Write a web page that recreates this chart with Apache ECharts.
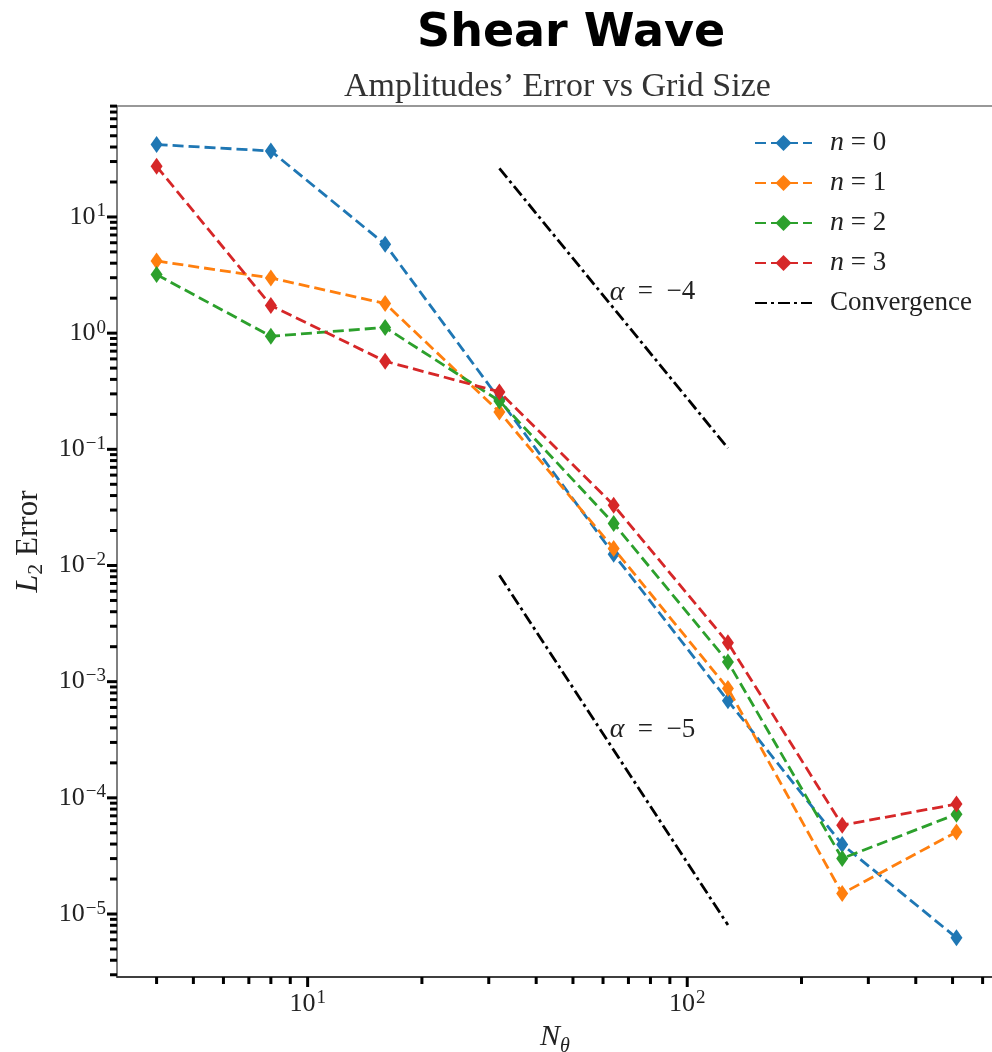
<!DOCTYPE html>
<html>
<head>
<meta charset="utf-8">
<script src="https://cdn.jsdelivr.net/npm/echarts@6/dist/echarts.min.js"></script>
<style>html,body{margin:0;padding:0;background:#fff;}</style>
</head>
<body>

<!-- chart container, same size as the window -->
<div id="main" style="width: 992px;height:1052px;"></div>

<script type="text/javascript">
    // grid sizes N_theta
    var gridSizes = [4, 8, 16, 32, 64, 128, 256, 512];
    // L2 error of the amplitudes, one array per mode n
    var errN0 = [42.0, 37.0, 5.82, 0.27, 0.0125, 6.84e-4, 3.97e-5, 6.24e-6];
    var errN1 = [4.18, 2.99, 1.80, 0.21, 0.014, 8.73e-4, 1.50e-5, 5.09e-5];
    var errN2 = [3.19, 0.94, 1.12, 0.261, 0.023, 1.48e-3, 3.01e-5, 7.24e-5];
    var errN3 = [27.3, 1.73, 0.573, 0.312, 0.033, 2.16e-3, 5.82e-5, 8.83e-5];
    // convergence guide lines (slope -4 and -5)
    var convX = [32, 128];
    var conv4 = [26.2, 0.1023];
    var conv5 = [8.25e-3, 8.06e-6];
    // where the slope labels sit
    var alpha4At = [81, 2.25];
    var alpha5At = [81, 3.83e-4];
    // axis ticks (powers of ten get labels)
    var xMajor = [10, 100];
    var yMajor = [1e-5, 1e-4, 1e-3, 1e-2, 1e-1, 1, 10];
    var xRange = [3.146, 639];
    var yRange = [2.87e-6, 90.2];

    var serif = 'Liberation Serif';
    var textColor = '#222';
    var colors = ['#1f77b4', '#ff7f0e', '#2ca02c', '#d62728'];

    function lg(v) { return Math.log10(v); }
    function toLog(xs, ys) {
        return xs.map(function (x, i) { return [lg(x), lg(ys[i])]; });
    }

    // minor ticks 2..9 of every decade inside the range
    function minorTicks(range) {
        var out = [];
        for (var k = -7; k <= 3; k++) {
            for (var m = 2; m <= 9; m++) {
                var v = m * Math.pow(10, k);
                if (v >= range[0] && v <= range[1] * 1.001) out.push(v);
            }
        }
        return out;
    }

    var tickItems = [];
    xMajor.forEach(function (v) { tickItems.push([0, lg(v), 1]); });
    minorTicks(xRange).forEach(function (v) { tickItems.push([0, lg(v), 0]); });
    yMajor.forEach(function (v) { tickItems.push([1, lg(v), 1]); });
    minorTicks(yRange).forEach(function (v) { tickItems.push([1, lg(v), 0]); });

    var labelRich = {
        b: { fontFamily: serif, fontSize: 26, color: textColor, lineHeight: 30 },
        s: { fontFamily: serif, fontSize: 19, color: textColor, verticalAlign: 'top', lineHeight: 30, padding: [0, 0, 0, 1] }
    };
    function powLabel(v) {
        if (Math.abs(v - Math.round(v)) > 1e-6) return '';
        var e = Math.round(v);
        return '{b|10}{s|' + (e < 0 ? '\u2212' + (-e) : e) + '}';
    }

    var myChart = echarts.init(document.getElementById('main'));

    var names = ['n = 0', 'n = 1', 'n = 2', 'n = 3'];
    var errs = [errN0, errN1, errN2, errN3];

    var series = errs.map(function (ys, i) {
        return {
            name: names[i],
            type: 'line',
            data: toLog(gridSizes, ys),
            symbol: 'diamond',
            symbolSize: [12, 17],
            itemStyle: { color: colors[i] },
            lineStyle: { color: colors[i], width: 2.8, type: [11, 5] },
            z: 4 + i
        };
    });

    var alphaRich = {
        i: { fontFamily: serif, fontStyle: 'italic', fontSize: 28, color: textColor },
        t: { fontFamily: serif, fontSize: 27, color: textColor }
    };
    function convSeries(ys, at, label) {
        return {
            name: 'Convergence',
            type: 'line',
            data: toLog(convX, ys),
            symbol: 'none',
            itemStyle: { color: '#000' },
            lineStyle: { color: '#000', width: 2.8, type: [12, 4, 3, 4] },
            z: 3,
            markPoint: {
                symbol: 'circle',
                symbolSize: 0,
                data: [{ coord: [lg(at[0]), lg(at[1])] }],
                label: { show: true, position: 'inside', formatter: label, rich: alphaRich }
            }
        };
    }
    series.push(convSeries(conv4, alpha4At, '{i|\u03b1}{t|  =  \u22124}'));
    series.push(convSeries(conv5, alpha5At, '{i|\u03b1}{t|  =  \u22125}'));

    // ticks drawn through the axes' own coordinate mapping
    series.push({
        type: 'custom',
        silent: true,
        z: 10,
        data: tickItems,
        renderItem: function (params, api) {
            var which = api.value(0), v = api.value(1), major = api.value(2);
            var len = major ? 10 : 7;
            var p;
            if (which === 0) {
                p = api.coord([v, lg(yRange[0])]);
                return { type: 'line', shape: { x1: p[0], y1: p[1], x2: p[0], y2: p[1] + len }, style: { stroke: '#000', lineWidth: 3 } };
            }
            p = api.coord([lg(xRange[0]), v]);
            return { type: 'line', shape: { x1: p[0] - len, y1: p[1], x2: p[0], y2: p[1] }, style: { stroke: '#000', lineWidth: 3 } };
        }
    });

    var option = {
        animation: false,
        backgroundColor: '#fff',
        title: [{
            text: 'Shear Wave',
            left: 412,
            top: 6,
            textStyle: { fontFamily: 'DejaVu Sans', fontWeight: 'bold', fontSize: 46, color: '#000' }
        }, {
            text: 'Amplitudes\u2019 Error vs Grid Size',
            left: 339,
            top: 65,
            textStyle: { fontFamily: serif, fontWeight: 'normal', fontSize: 34, color: '#333' }
        }],
        legend: {
            orient: 'vertical',
            left: 749,
            top: 124,
            itemWidth: 57,
            itemHeight: 20,
            itemGap: 12,
            data: names.concat([{ name: 'Convergence', itemStyle: { opacity: 0 } }]),
            formatter: function (name) {
                if (name === 'Convergence') return '{g|}{t|Convergence}';
                return '{g|}{i|n}{t| = ' + name.slice(-1) + '}';
            },
            textStyle: {
                lineHeight: 28,
                rich: {
                    g: { width: 13 },
                    i: { fontFamily: serif, fontStyle: 'italic', fontSize: 28, color: textColor },
                    t: { fontFamily: serif, fontSize: 27, color: textColor }
                }
            }
        },
        grid: {
            left: 117,
            right: -1,
            top: 106,
            bottom: 75,
            containLabel: false,
            outerBoundsMode: 'none',
            show: true,
            borderColor: '#777',
            borderWidth: 1.5
        },
        xAxis: {
            type: 'value',
            min: lg(xRange[0]),
            max: lg(xRange[1]),
            minInterval: 1,
            maxInterval: 1,
            splitLine: { show: false },
            axisTick: { show: false },
            axisLine: { onZero: false, lineStyle: { color: '#222', width: 1.5 } },
            axisLabel: { margin: 12, formatter: powLabel, rich: labelRich, showMinLabel: false, showMaxLabel: false },
            name: '{i|N}{s|\u03b8}',
            nameLocation: 'middle',
            nameGap: 40,
            nameTextStyle: {
                rich: {
                    i: { fontFamily: serif, fontStyle: 'italic', fontSize: 30, color: textColor, lineHeight: 32 },
                    s: { fontFamily: serif, fontStyle: 'italic', fontSize: 20, color: textColor, verticalAlign: 'bottom', lineHeight: 32, padding: [0, 0, -4, 0] }
                }
            }
        },
        yAxis: {
            type: 'value',
            min: lg(yRange[0]),
            max: lg(yRange[1]),
            minInterval: 1,
            maxInterval: 1,
            splitLine: { show: false },
            axisTick: { show: false },
            axisLine: { onZero: false, lineStyle: { color: '#777', width: 1.5 } },
            axisLabel: { margin: 11, formatter: powLabel, rich: labelRich, showMinLabel: false, showMaxLabel: false },
            name: '{i|L}{s|2}{t| Error}',
            nameLocation: 'middle',
            nameRotate: 90,
            nameGap: 70,
            nameTextStyle: {
                rich: {
                    i: { fontFamily: serif, fontStyle: 'italic', fontSize: 32, color: textColor, lineHeight: 36 },
                    s: { fontFamily: serif, fontSize: 22, color: textColor, verticalAlign: 'bottom', lineHeight: 36 },
                    t: { fontFamily: serif, fontSize: 31, color: textColor, lineHeight: 36 }
                }
            }
        },
        series: series
    };

    myChart.setOption(option);
</script>

</body>
</html>
